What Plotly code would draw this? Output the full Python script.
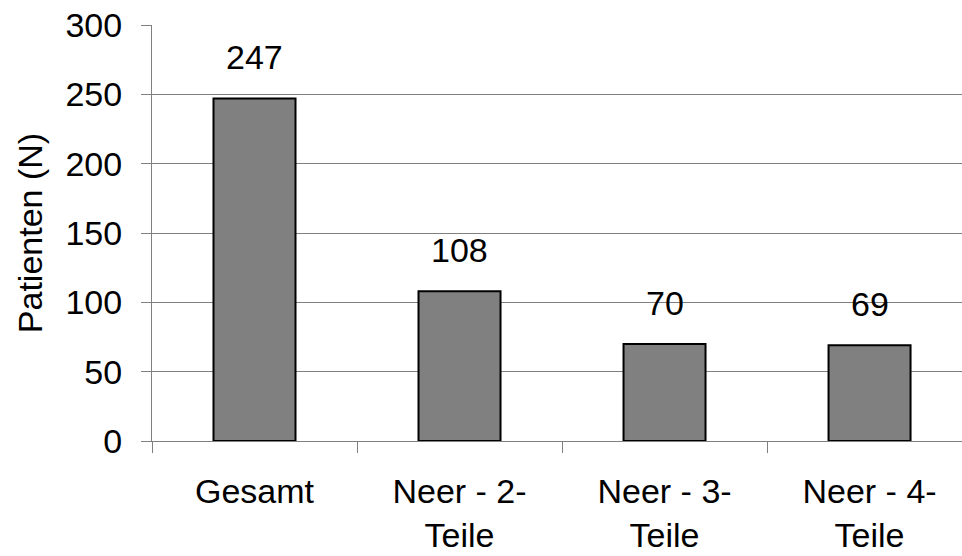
import plotly.graph_objects as go

# Patient counts by fracture classification
categories = ["Gesamt", "Neer - 2-<br>Teile", "Neer - 3-<br>Teile", "Neer - 4-<br>Teile"]
patients = [247, 108, 70, 69]
y_ticks = [0, 50, 100, 150, 200, 250, 300]

FONT = "Liberation Sans, Arial, sans-serif"
GRID = "#808080"

fig = go.Figure()
fig.add_trace(go.Bar(
    x=categories,
    y=patients,
    width=0.4,
    marker=dict(color="#808080", line=dict(color="black", width=2)),
    hoverinfo="x+y",
))

# value labels above each bar
for cat, val in zip(categories, patients):
    fig.add_annotation(
        x=cat, y=val, text=str(val), showarrow=False,
        yanchor="bottom", yshift=20,
        font=dict(family=FONT, size=34, color="black"),
    )

fig.update_layout(
    width=962, height=556,
    margin=dict(l=152, r=0, t=25, b=115),
    paper_bgcolor="white", plot_bgcolor="white",
    showlegend=False,
    font=dict(family=FONT, size=34, color="black"),
    bargap=0.6,
)
fig.update_xaxes(
    type="category",
    range=[-0.5, 3.451],
    showgrid=False,
    showline=True, linecolor=GRID, linewidth=1,
    ticks="outside", tickson="boundaries", ticklen=11, tickcolor=GRID, tickwidth=1,
    tickfont=dict(family=FONT, size=34, color="black"),
    ticklabelstandoff=20,
)
fig.update_yaxes(
    range=[0, 300],
    tickvals=y_ticks,
    showgrid=True, gridcolor=GRID, gridwidth=1,
    zeroline=False,
    showline=True, linecolor=GRID, linewidth=1,
    ticks="outside", ticklen=10, tickcolor=GRID, tickwidth=1,
    tickfont=dict(family=FONT, size=34, color="black"),
    ticklabelstandoff=12,
    title=dict(text="Patienten (N)", font=dict(family=FONT, size=34, color="black"), standoff=12),
)

fig.write_html("out.html")
